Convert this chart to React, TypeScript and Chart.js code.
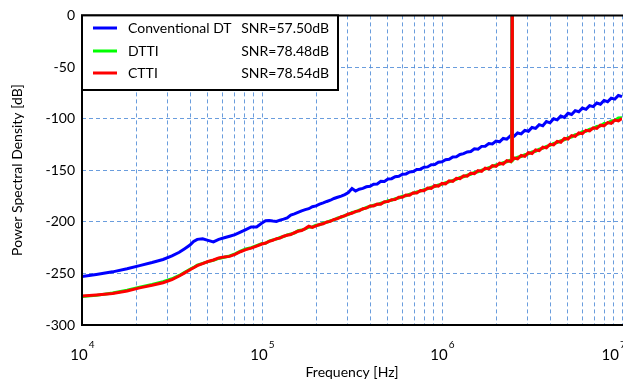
import React, { useEffect, useRef } from 'react';
import { Chart, registerables } from 'chart.js';
Chart.register(...registerables);

// ---------- data ----------
const freqHz = [
  10000, 12000, 14800, 17800, 20900, 24500, 28200, 31600, 34700, 37200, 39800, 41700,
  43700, 46800, 50100, 53700, 57500, 61700, 66100, 70800, 75900, 81300, 87100, 93300,
  100000, 104700, 109600, 114800, 120200, 125900, 131800, 138000, 144500, 151400,
  158500, 166000, 173800, 182000, 190500, 199500, 208900, 218800, 229100, 239900,
  251200, 263000, 275400, 288400, 302000, 316200, 331100, 346700, 363100, 380200,
  398100, 416900, 436500, 457100, 478600, 501200, 524800, 549500, 575400, 602600,
  631000, 660700, 691800, 724400, 758600, 794300, 831800, 871000, 912000, 955000,
  1000000, 1047000, 1096000, 1148000, 1202000, 1259000, 1318000, 1380000, 1445000, 1514000,
  1585000, 1660000, 1738000, 1820000, 1905000, 1995000, 2089000, 2188000, 2291000, 2399000,
  2440000, 2450000, 2460000,
  2512000, 2630000, 2754000, 2884000, 3020000, 3162000, 3311000, 3467000, 3631000, 3802000,
  3981000, 4169000, 4365000, 4571000, 4786000, 5012000, 5248000, 5495000, 5754000, 6026000,
  6310000, 6607000, 6918000, 7244000, 7586000, 7943000, 8318000, 8710000, 9120000, 9550000,
  10000000,
];

const conventionalDtDb = [
  -253, -251, -248.5, -245.5, -242.5, -239.5, -236.5, -233, -229.5, -226, -222.5, -219,
  -217, -216.5, -218, -219.5, -217, -215.5, -214, -212.5, -210, -207.5, -205, -205,
  -201.2, -199.0, -198.8, -199.3, -199.6, -198.4, -197.4, -196.2, -193.4, -192.3,
  -190.9, -189.4, -188.2, -187.3, -185.4, -184.6, -182.9, -181.7, -180.3, -179.1,
  -177.4, -176.2, -175.1, -173.6, -171.6, -167.8, -170.2, -168.4, -167.6, -166.1,
  -165.6, -163.6, -163.3, -160.8, -160.9, -158.5, -158.2, -156.3, -155.9, -153.9,
  -153.6, -151.7, -151.3, -149.3, -149.0, -147.1, -146.8, -144.6, -144.5, -142.3,
  -141.8, -139.9, -139.5, -137.2, -136.9, -134.8, -133.9, -132.3, -131.9, -129.3,
  -129.6, -126.9, -126.8, -124.2, -124.6, -121.8, -122.5, -119.2, -119.9, -116.8,
  -117.5, 0, -117.5,
  -117.2, -113.9, -114.8, -111.4, -112.3, -108.6, -109.5, -105.9, -107.0, -102.9,
  -104.1, -100.2, -101.2, -97.5, -98.8, -94.8, -96.0, -92.3, -93.4, -89.8,
  -91.0, -87.4, -88.4, -84.9, -86.1, -82.4, -83.7, -80.2, -81.1, -77.6,
  -78.6,
];

const dttiDb = [
  -272.4, -271.3, -269.0, -266.3, -263.3, -260.8, -258.0, -255.2, -252.0, -249.0, -246.0, -244.2,
  -242.0, -240.3, -238.6, -237.4, -235.5, -234.4, -233.0, -231.0, -228.4, -226.4, -225.0, -223.0,
  -221.0, -220.9, -218.6, -217.5, -216.8, -215.2, -214.3, -212.7, -211.8, -210.9,
  -208.7, -208.0, -206.9, -205.2, -205.0, -203.4, -202.9, -201.2, -200.6, -199.0,
  -198.2, -196.3, -195.6, -193.8, -192.9, -191.0, -190.4, -188.7, -187.8, -186.1,
  -185.2, -183.9, -183.3, -182.0, -181.1, -179.6, -179.2, -177.6, -176.9, -175.3,
  -174.8, -173.2, -172.5, -171.1, -170.3, -168.8, -168.1, -166.5, -165.8, -164.3,
  -163.6, -162.0, -161.2, -159.8, -158.9, -157.1, -156.3, -154.9, -153.9, -152.2,
  -151.5, -149.9, -149.0, -147.6, -146.4, -145.0, -144.2, -142.7, -141.8, -140.2,
  -140.5, 0, -140.5,
  -139.0, -137.5, -136.8, -135.0, -134.2, -132.3, -131.6, -129.6, -128.8, -126.9,
  -126.0, -124.0, -123.3, -121.3, -120.5, -118.4, -117.9, -115.6, -115.1, -112.8,
  -112.3, -110.2, -109.7, -107.5, -107.1, -104.8, -104.4, -102.3, -101.8, -99.4,
  -99.2,
];

const cttiDb = [
  -272, -271, -269.5, -267, -264, -261.5, -259, -256, -252.5, -249.5, -246.5, -244.5,
  -242.5, -240.5, -238.5, -237, -235, -234, -233.5, -231.5, -229, -227, -225.5, -223.5,
  -221.5, -220.6, -219.0, -217.9, -216.4, -215.8, -214.0, -213.1, -212.3, -210.6,
  -209.2, -208.4, -206.6, -204.3, -205.5, -204.0, -202.6, -201.9, -200.2, -199.6,
  -197.8, -197.0, -195.1, -194.3, -192.4, -191.8, -189.9, -189.4, -187.3, -186.8,
  -184.7, -184.6, -182.8, -182.9, -180.6, -180.4, -178.6, -178.5, -176.3, -176.2,
  -174.1, -174.2, -171.8, -172.0, -169.6, -169.8, -167.2, -167.6, -165.0, -165.4,
  -162.8, -163.2, -160.3, -160.9, -157.9, -158.2, -155.4, -155.8, -152.9, -153.4,
  -150.4, -151.2, -148.1, -148.8, -145.5, -146.3, -143.2, -144.0, -140.8, -141.6,
  -141.0, 0, -140.0,
  -138.2, -139.0, -135.7, -136.6, -133.0, -133.8, -130.4, -131.1, -127.6, -128.4,
  -124.9, -125.5, -122.1, -122.9, -119.2, -119.8, -116.4, -117.2, -113.9, -114.6,
  -111.3, -112.0, -108.9, -109.5, -106.4, -107.0, -103.9, -104.6, -101.5, -102.2,
  -99.8,
];

const seriesNames = ['Conventional DT', 'DTTI', 'CTTI'];
const snrLabels = ['SNR=57.50dB', 'SNR=78.48dB', 'SNR=78.54dB'];
const seriesColors = ['#0000ff', '#00ff00', '#ff0000'];

const xDecades = [1e4, 1e5, 1e6, 1e7];
const xDecadeExponents = ['4', '5', '6', '7'];
const xMantissas = [1, 2, 3, 4, 5, 6, 7, 8, 9];
const yMin = -300;
const yMax = 0;
const yStep = 50;
const xTitle = 'Frequency [Hz]';
const yTitle = 'Power Spectral Density [dB]';

const W = 623;
const H = 381;
const FONT = 'Lato, "Open Sans", sans-serif';
const GRID = 'rgba(80,140,215,0.85)';

const overlayPlugin = {
  id: 'overlay',
  afterDraw(chart: any) {
    const { ctx, chartArea: a, scales } = chart;
    const xs = scales.x;
    ctx.save();
    // frame
    ctx.strokeStyle = '#000';
    ctx.lineWidth = 2;
    ctx.beginPath();
    ctx.moveTo(a.right + 2, a.top);
    ctx.lineTo(a.left, a.top);
    ctx.lineTo(a.left, a.bottom);
    ctx.lineTo(a.right + 2, a.bottom);
    ctx.stroke();

    // legend
    const lx0 = a.left, ly0 = a.top, lx1 = 338, ly1 = 90;
    ctx.fillStyle = '#fff';
    ctx.fillRect(lx0, ly0, lx1 - lx0, ly1 - ly0);
    ctx.strokeRect(lx0, ly0, lx1 - lx0, ly1 - ly0);
    const rowsY = [28, 51, 73];
    ctx.font = `14px ${FONT}`;
    ctx.textBaseline = 'middle';
    seriesNames.forEach((name, i) => {
      const yy = rowsY[i];
      ctx.strokeStyle = seriesColors[i];
      ctx.lineWidth = 3;
      ctx.beginPath();
      ctx.moveTo(93, yy);
      ctx.lineTo(117, yy);
      ctx.stroke();
      ctx.fillStyle = '#000';
      ctx.textAlign = 'left';
      ctx.fillText(name, 128, yy);
      ctx.textAlign = 'right';
      ctx.fillText(snrLabels[i], 329, yy);
    });

    // x tick labels 10^n
    ctx.fillStyle = '#000';
    ctx.textBaseline = 'alphabetic';
    xDecades.forEach((d, i) => {
      const px = xs.getPixelForValue(d);
      ctx.font = `15px ${FONT}`;
      const bw = ctx.measureText('10').width;
      let left = px - 3 - bw / 2;
      if (left + bw > W - 4) left = W - 4 - bw;
      ctx.textAlign = 'left';
      ctx.fillText('10', left, 360);
      ctx.font = `10px ${FONT}`;
      ctx.fillText(xDecadeExponents[i], left + bw + 1, 348);
    });

    // axis titles
    ctx.font = `14px ${FONT}`;
    ctx.textAlign = 'center';
    ctx.textBaseline = 'alphabetic';
    ctx.fillText(xTitle, 352, 377);
    ctx.translate(17, 170);
    ctx.rotate(-Math.PI / 2);
    ctx.textBaseline = 'middle';
    ctx.fillText(yTitle, 0, 0);
    ctx.restore();
  },
};

export default function App() {
  const ref = useRef<HTMLCanvasElement | null>(null);
  useEffect(() => {
    document.body.style.margin = '0';
    const ctx = ref.current!.getContext('2d')!;
    const series = [conventionalDtDb, dttiDb, cttiDb];
    const chart = new Chart(ctx, {
      type: 'line',
      data: {
        datasets: series.map((vals, i) => ({
          label: seriesNames[i],
          data: freqHz.map((f, k) => ({ x: f, y: vals[k] })),
          borderColor: seriesColors[i],
          backgroundColor: seriesColors[i],
          borderWidth: 3,
          pointRadius: 0,
          tension: 0,
          fill: false,
          order: series.length - 1 - i,
        })),
      },
      options: {
        responsive: false,
        animation: false,
        devicePixelRatio: 1,
        events: [],
        layout: { padding: { left: 0, right: 1, top: 12, bottom: 0 } },
        plugins: { legend: { display: false }, tooltip: { enabled: false }, title: { display: false } },
        scales: {
          x: {
            type: 'logarithmic',
            min: 1e4,
            max: 1e7,
            afterBuildTicks: (scale: any) => {
              const t: any[] = [];
              xDecades.forEach((d, i) => {
                if (i === xDecades.length - 1) { t.push({ value: d }); return; }
                xMantissas.forEach((m) => t.push({ value: m * d }));
              });
              scale.ticks = t;
            },
            afterFit: (scale: any) => { scale.height = 56; },
            ticks: { display: false },
            grid: { color: GRID, lineWidth: 1, drawTicks: false },
            border: { display: false, dash: [4, 3] },
          },
          y: {
            type: 'linear',
            min: yMin,
            max: yMax,
            afterFit: (scale: any) => { scale.width = 82; },
            ticks: {
              stepSize: yStep,
              color: '#000',
              font: { family: FONT, size: 14 },
              padding: 7,
            },
            grid: {
              color: (c: any) => (c.tick && (c.tick.value === yMin || c.tick.value === yMax) ? 'rgba(0,0,0,0)' : GRID),
              lineWidth: 1,
              drawTicks: false,
            },
            border: { display: false, dash: [4, 3] },
          },
        },
      },
      plugins: [overlayPlugin],
    } as any);
    return () => chart.destroy();
  }, []);
  return (
    <div style={{ position: 'absolute', left: 0, top: 0, width: W, height: H, background: '#fff' }}>
      <canvas ref={ref} width={W} height={H} style={{ width: W, height: H, display: 'block' }} />
    </div>
  );
}
